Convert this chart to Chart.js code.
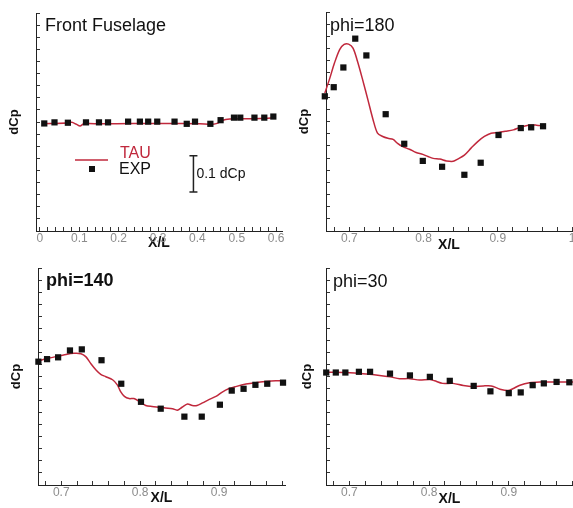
<!DOCTYPE html>
<html>
<head>
<meta charset="utf-8">
<script src="https://cdn.jsdelivr.net/npm/chart.js@4.4.1/dist/chart.umd.min.js"></script>
<style>
  body { margin: 0; background: #fff; }
  #wrap { position: relative; width: 573px; height: 508px; overflow: hidden; background: #fff; }
  canvas { position: absolute; }
</style>
</head>
<body>
<div id="wrap">
  <canvas id="fuselage" width="290" height="255" style="left:0;top:0"></canvas>
  <canvas id="phi180" width="310" height="255" style="left:290px;top:0"></canvas>
  <canvas id="phi140" width="290" height="253" style="left:0;top:255px"></canvas>
  <canvas id="phi30" width="310" height="253" style="left:290px;top:255px"></canvas>
</div>
<script>
// Front fuselage
const fusExpX = [0.011, 0.037, 0.071, 0.117, 0.150, 0.173, 0.224, 0.254, 0.275, 0.298, 0.342, 0.373, 0.394, 0.433, 0.459, 0.493, 0.509, 0.545, 0.570, 0.593];
const fusExpY = [-0.004, -0.001, -0.002, -0.001, -0.001, -0.001, 0.001, 0.001, 0.001, 0.001, 0.001, -0.005, 0.001, -0.005, 0.005, 0.012, 0.012, 0.012, 0.012, 0.015];
const fusTauX = [0.007, 0.068, 0.081, 0.092, 0.102, 0.112, 0.152, 0.237, 0.321, 0.406, 0.439, 0.452, 0.465, 0.482, 0.507, 0.541, 0.574, 0.593];
const fusTauY = [-0.005, -0.003, -0.001, -0.006, -0.011, -0.005, -0.005, -0.004, -0.004, -0.005, -0.006, -0.003, 0.005, 0.008, 0.009, 0.009, 0.010, 0.012];

// phi=180
const p180ExpX = [0.667, 0.679, 0.692, 0.708, 0.723, 0.749, 0.774, 0.799, 0.825, 0.855, 0.877, 0.901, 0.931, 0.945, 0.961];
const p180ExpY = [0.069, 0.094, 0.148, 0.227, 0.181, 0.020, -0.061, -0.108, -0.124, -0.146, -0.113, -0.037, -0.018, -0.016, -0.013];
const p180TauX = [0.667, 0.673, 0.680, 0.687, 0.693, 0.699, 0.705, 0.711, 0.718, 0.725, 0.732, 0.738, 0.745, 0.752, 0.759, 0.765, 0.772, 0.781, 0.790, 0.799,
                  0.806, 0.813, 0.822, 0.831, 0.840, 0.846, 0.855, 0.864, 0.873, 0.882, 0.891, 0.901, 0.910, 0.921, 0.930, 0.941, 0.952, 0.961];
const p180TauY = [0.078, 0.114, 0.160, 0.197, 0.211, 0.212, 0.201, 0.165, 0.114, 0.060, 0.005, -0.032, -0.041, -0.046, -0.049, -0.060, -0.069, -0.076, -0.085, -0.090,
                  -0.096, -0.101, -0.103, -0.108, -0.109, -0.103, -0.092, -0.073, -0.055, -0.041, -0.032, -0.030, -0.027, -0.023, -0.016, -0.010, -0.010, -0.012];

// phi=140
const p140ExpX = [0.671, 0.682, 0.696, 0.711, 0.726, 0.751, 0.776, 0.801, 0.826, 0.856, 0.878, 0.901, 0.916, 0.931, 0.946, 0.961, 0.981];
const p140ExpY = [0.041, 0.048, 0.053, 0.072, 0.075, 0.045, -0.020, -0.070, -0.089, -0.111, -0.111, -0.078, -0.039, -0.034, -0.023, -0.020, -0.017];
const p140TauX = [0.671, 0.681, 0.693, 0.706, 0.716, 0.725, 0.731, 0.737, 0.744, 0.750, 0.756, 0.765, 0.771, 0.775, 0.780, 0.786, 0.792, 0.799, 0.807, 0.815,
                  0.824, 0.832, 0.841, 0.847, 0.853, 0.860, 0.866, 0.872, 0.879, 0.887, 0.896, 0.904, 0.912, 0.921, 0.934, 0.946, 0.959, 0.972, 0.981];
const p140TauY = [0.043, 0.049, 0.055, 0.061, 0.064, 0.063, 0.055, 0.037, 0.018, 0.006, 0.000, -0.009, -0.023, -0.041, -0.055, -0.061, -0.061, -0.069, -0.080, -0.083,
                  -0.085, -0.087, -0.089, -0.093, -0.085, -0.076, -0.080, -0.080, -0.073, -0.064, -0.055, -0.043, -0.034, -0.028, -0.021, -0.017, -0.014, -0.012, -0.012];

// phi=30
const p30ExpX = [0.671, 0.683, 0.695, 0.712, 0.726, 0.751, 0.776, 0.801, 0.826, 0.856, 0.877, 0.900, 0.915, 0.930, 0.944, 0.960, 0.976];
const p30ExpY = [0.011, 0.011, 0.011, 0.013, 0.013, 0.008, 0.003, -0.001, -0.012, -0.026, -0.041, -0.046, -0.044, -0.024, -0.019, -0.015, -0.016];
const p30TauX = [0.671, 0.696, 0.721, 0.738, 0.751, 0.763, 0.776, 0.788, 0.801, 0.807, 0.817, 0.830, 0.843, 0.855, 0.868, 0.878, 0.889, 0.899, 0.905, 0.914,
                 0.926, 0.939, 0.955, 0.972, 0.981];
const p30TauY = [0.012, 0.011, 0.007, 0.003, -0.001, -0.006, -0.006, -0.010, -0.008, -0.012, -0.019, -0.019, -0.025, -0.028, -0.026, -0.026, -0.035, -0.039, -0.034, -0.024,
                 -0.017, -0.015, -0.015, -0.015, -0.015];

const seriesNames = ['TAU', 'EXP'];
const scaleBarLabel = '0.1 dCp';

const tauColor = '#c0283c';
const expColor = '#111111';
const fontFamily = '"Liberation Sans", Arial, Helvetica, sans-serif';
Chart.defaults.font.family = fontFamily;

function pairs(xs, ys) {
    return xs.map((x, i) => ({ x: x, y: ys[i] }));
}

// minor ticks every `step`, built inside the scale range
function tickBuilder(step) {
    return function(scale) {
        const ticks = [];
        const first = Math.ceil(scale.min / step - 1e-6);
        const last = Math.floor(scale.max / step + 1e-6);
        for (let i = first; i <= last; i++) ticks.push({ value: i * step });
        scale.ticks = ticks;
    };
}

function xLabel(value) {
    const tenth = Math.round(value * 10);
    if (Math.abs(value * 10 - tenth) > 1e-6) return '';
    return tenth % 10 === 0 ? String(tenth / 10) : (tenth / 10).toFixed(1);
}

// panel name in the top-left corner
const panelTitle = {
    id: 'panelTitle',
    afterDraw(chart, args, opts) {
        const { ctx, chartArea: a } = chart;
        ctx.save();
        ctx.fillStyle = '#111';
        ctx.font = (opts.bold ? 'bold ' : '') + '18px ' + fontFamily;
        ctx.textBaseline = 'alphabetic';
        ctx.textAlign = 'left';
        ctx.fillText(opts.text, a.left + opts.dx, a.top + opts.dy);
        ctx.restore();
    }
};

// TAU / EXP key and the 0.1 dCp scale bar (first panel only)
const keyBox = {
    id: 'keyBox',
    afterDraw(chart, args, opts) {
        if (!opts.show) return;
        const { ctx, chartArea: a, scales: { x, y } } = chart;
        ctx.save();
        ctx.strokeStyle = tauColor;
        ctx.lineWidth = 1.5;
        ctx.beginPath();
        ctx.moveTo(a.left + 39, a.top + 147);
        ctx.lineTo(a.left + 72, a.top + 147);
        ctx.stroke();
        ctx.fillStyle = expColor;
        ctx.fillRect(a.left + 53, a.top + 153, 6, 6);

        ctx.font = '16px ' + fontFamily;
        ctx.textBaseline = 'middle';
        ctx.fillStyle = tauColor;
        ctx.fillText(seriesNames[0], a.left + 84, a.top + 141);
        ctx.fillStyle = expColor;
        ctx.fillText(seriesNames[1], a.left + 83, a.top + 157);

        // scale bar, its length is 0.1 on the y axis
        const bx = x.getPixelForValue(opts.barX);
        const y1 = y.getPixelForValue(opts.barY);
        const y2 = y.getPixelForValue(opts.barY - 0.1);
        ctx.strokeStyle = '#222';
        ctx.lineWidth = 1.5;
        ctx.beginPath();
        ctx.moveTo(bx, y1); ctx.lineTo(bx, y2);
        ctx.moveTo(bx - 4, y1); ctx.lineTo(bx + 4, y1);
        ctx.moveTo(bx - 4, y2); ctx.lineTo(bx + 4, y2);
        ctx.stroke();
        ctx.fillStyle = '#111';
        ctx.font = '14px ' + fontFamily;
        ctx.fillText(scaleBarLabel, bx + 3, (y1 + y2) / 2);
        ctx.restore();
    }
};

function makePanel(p) {
    const yWidth = p.box.L - p.cx;
    const xHeight = p.cy + p.ch - p.box.B;
    const axisGrid = { drawOnChartArea: false, drawTicks: true, tickLength: -4, color: '#333', lineWidth: 1 };
    return new Chart(document.getElementById(p.id), {
        type: 'scatter',
        data: {
            datasets: [{
                label: seriesNames[1],
                data: pairs(p.expX, p.expY),
                pointStyle: 'rect',
                pointRadius: 4.4,
                pointBorderWidth: 0,
                backgroundColor: expColor,
                borderColor: expColor,
                clip: false
            }, {
                label: seriesNames[0],
                data: pairs(p.tauX, p.tauY),
                showLine: true,
                pointRadius: 0,
                borderColor: tauColor,
                borderWidth: 1.5,
                tension: 0.3,
                clip: false
            }]
        },
        options: {
            responsive: false,
            animation: false,
            layout: { padding: { left: 0, top: p.box.T - p.cy, right: p.cx + p.cw - p.box.R, bottom: 0 } },
            plugins: {
                legend: { display: false },
                tooltip: { enabled: false },
                panelTitle: p.title,
                keyBox: p.key || { show: false }
            },
            scales: {
                x: {
                    type: 'linear',
                    position: 'bottom',
                    bounds: 'data',
                    min: p.xmin,
                    max: p.xmax,
                    afterBuildTicks: tickBuilder(0.02),
                    afterFit: s => { s.height = xHeight; },
                    ticks: {
                        autoSkip: false,
                        maxRotation: 0,
                        padding: 4,
                        color: '#8c8c8c',
                        font: { size: 12 },
                        callback: xLabel
                    },
                    grid: axisGrid,
                    border: { display: true, color: '#222', width: 1 },
                    title: { display: true, text: 'X/L', color: '#111', font: { size: 14, weight: 'bold' }, padding: { top: 0, bottom: p.xTitlePad } }
                },
                y: {
                    type: 'linear',
                    position: 'left',
                    bounds: 'data',
                    min: -0.3,
                    max: 0.3,
                    afterBuildTicks: tickBuilder(0.1 / 3),
                    afterFit: s => { s.width = yWidth; },
                    ticks: { display: false, autoSkip: false },
                    grid: axisGrid,
                    border: { display: true, color: '#222', width: 1 },
                    title: { display: true, text: 'dCp', color: '#111', font: { size: 13, weight: 'bold' }, padding: { top: p.yTitlePad, bottom: 0 } }
                }
            }
        },
        plugins: [panelTitle, keyBox]
    });
}

makePanel({
    id: 'fuselage', cx: 0, cy: 0, cw: 290, ch: 255,
    box: { L: 36, T: 13, R: 282, B: 231 }, xmin: -0.01, xmax: 0.615,
    expX: fusExpX, expY: fusExpY, tauX: fusTauX, tauY: fusTauY,
    title: { text: 'Front Fuselage', bold: false, dx: 9, dy: 18 },
    key: { show: true, barX: 0.39, barY: -0.093 },
    yTitlePad: 7, xTitlePad: 3
});
makePanel({
    id: 'phi180', cx: 290, cy: 0, cw: 310, ch: 255,
    box: { L: 326, T: 12, R: 572, B: 231 }, xmin: 0.6686, xmax: 1.0,
    expX: p180ExpX, expY: p180ExpY, tauX: p180TauX, tauY: p180TauY,
    title: { text: 'phi=180', bold: false, dx: 4, dy: 19 },
    yTitlePad: 7, xTitlePad: 1
});
makePanel({
    id: 'phi140', cx: 0, cy: 255, cw: 290, ch: 253,
    box: { L: 38, T: 268, R: 285, B: 485 }, xmin: 0.6705, xmax: 0.9835,
    expX: p140ExpX, expY: p140ExpY, tauX: p140TauX, tauY: p140TauY,
    title: { text: 'phi=140', bold: true, dx: 8, dy: 18 },
    yTitlePad: 9, xTitlePad: 1
});
makePanel({
    id: 'phi30', cx: 290, cy: 255, cw: 310, ch: 253,
    box: { L: 326, T: 268, R: 573, B: 485 }, xmin: 0.6707, xmax: 0.9806,
    expX: p30ExpX, expY: p30ExpY, tauX: p30TauX, tauY: p30TauY,
    title: { text: 'phi=30', bold: false, dx: 7, dy: 19 },
    yTitlePad: 10, xTitlePad: 0
});
</script>
</body>
</html>
